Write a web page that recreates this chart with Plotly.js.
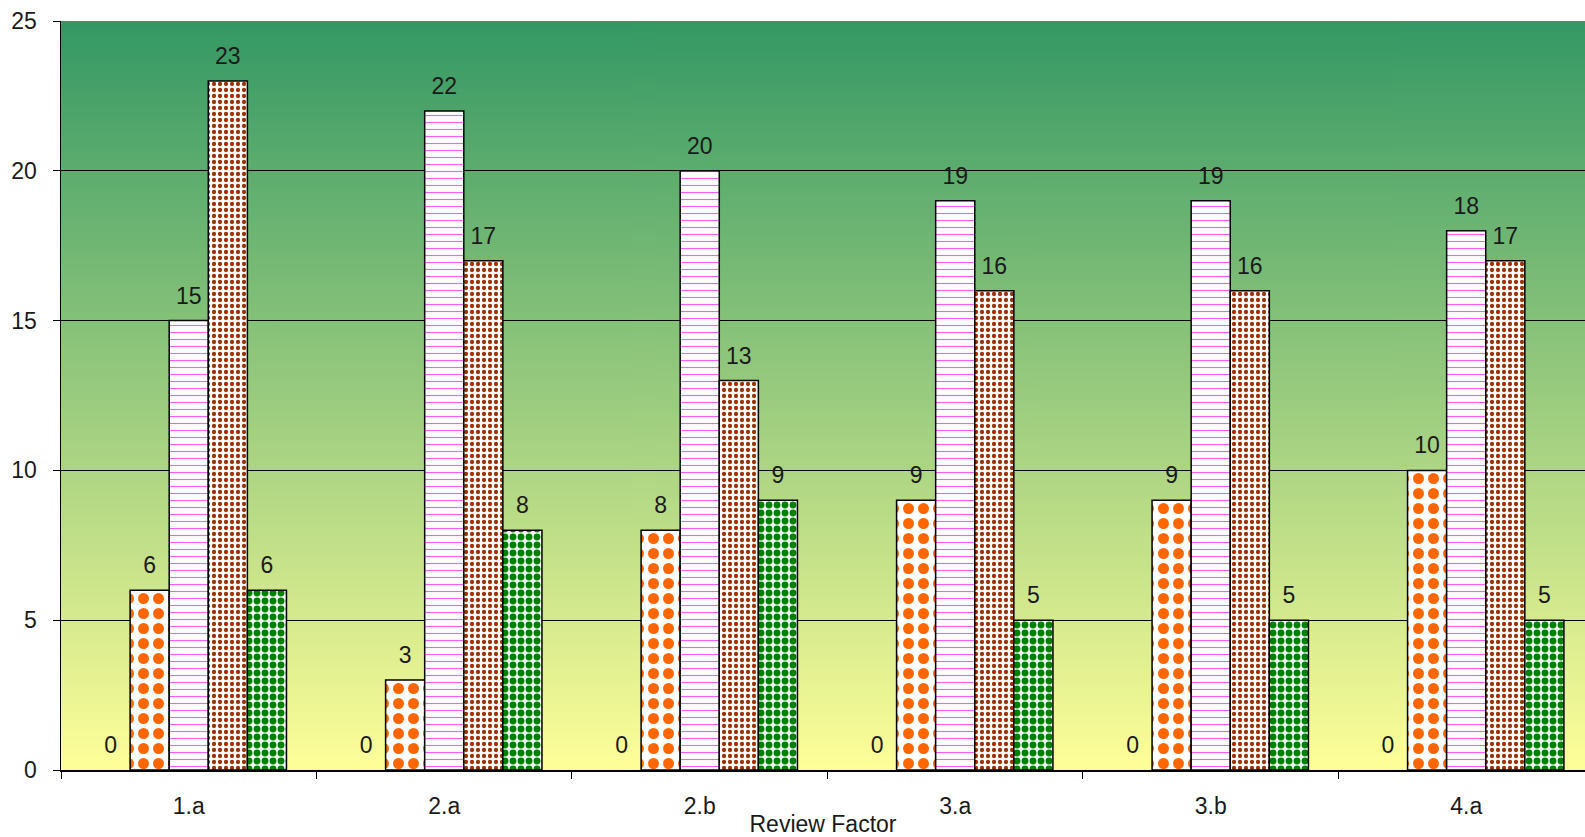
<!DOCTYPE html>
<html>
<head>
<meta charset="utf-8">
<script src="https://cdn.plot.ly/plotly-3.0.1.min.js"></script>
<style>
  html, body { margin: 0; padding: 0; background: #ffffff; }
  #chart { width: 1585px; height: 837px; }
</style>
</head>
<body>
<div id="chart"></div>
<script>
// ---- data ----
const categories = ["1.a", "2.a", "2.b", "3.a", "3.b", "4.a"];
const seriesNone   = [0, 0, 0, 0, 0, 0];
const seriesOrange = [6, 3, 8, 9, 9, 10];
const seriesPink   = [15, 22, 20, 19, 19, 18];
const seriesBrown  = [23, 17, 13, 16, 16, 17];
const seriesGreen  = [6, 8, 9, 5, 5, 5];
const yTicks = [0, 5, 10, 15, 20, 25];
const xTitle = "Review Factor";

// ---- gradient background image (top green -> bottom yellow) ----
function gradientURL() {
  const c = document.createElement("canvas");
  c.width = 4; c.height = 512;
  const g = c.getContext("2d");
  const lg = g.createLinearGradient(0, 0, 0, 512);
  lg.addColorStop(0, "#349864");
  lg.addColorStop(1, "#FFFF99");
  g.fillStyle = lg;
  g.fillRect(0, 0, 4, 512);
  return c.toDataURL("image/png");
}

const FONT = "Liberation Sans, Arial, sans-serif";
const FS = 23;
const TXT = "#1a1a1a";

function barTrace(name, values, pattern, lineW) {
  return {
    type: "bar",
    name: name,
    x: categories,
    y: values,
    text: values.map(String),
    textposition: "outside",
    constraintext: "none",
    cliponaxis: false,
    textfont: { family: FONT, size: FS, color: TXT },
    marker: {
      color: "#ffffff",
      line: { color: "#000000", width: lineW },
      pattern: pattern
    },
    hoverinfo: "x+y"
  };
}

const traces = [
  barTrace("none", seriesNone, { shape: "" }, 0),
  barTrace("orange", seriesOrange, { shape: ".", fgcolor: "#FF6600", bgcolor: "#ffffff", fgopacity: 1, size: 15, solidity: 0.42, fillmode: "overlay" }, 1.5),
  barTrace("pink", seriesPink, { shape: "-", fgcolor: "#FF00FF", bgcolor: "#ffffff", fgopacity: 0.65, size: 7, solidity: 0.16, fillmode: "overlay" }, 1.5),
  barTrace("brown", seriesBrown, { shape: ".", fgcolor: "#993300", bgcolor: "#ffffff", fgopacity: 1, size: 6, solidity: 0.4, fillmode: "overlay" }, 1.5),
  barTrace("green", seriesGreen, { shape: ".", fgcolor: "#008000", bgcolor: "#ffffff", fgopacity: 1, size: 8, solidity: 0.58, fillmode: "overlay" }, 1.5)
];

const layout = {
  width: 1585,
  height: 837,
  margin: { l: 61, r: 0, t: 21, b: 67, pad: 0 },
  paper_bgcolor: "#ffffff",
  plot_bgcolor: "rgba(0,0,0,0)",
  showlegend: false,
  barmode: "group",
  bargap: 0.235,
  bargroupgap: 0,
  font: { family: FONT, size: FS, color: TXT },
  images: [{
    source: gradientURL(),
    xref: "paper", yref: "paper",
    x: 0, y: 1, sizex: 1, sizey: 1,
    xanchor: "left", yanchor: "top",
    sizing: "stretch",
    layer: "below"
  }],
  xaxis: {
    type: "category",
    range: [-0.5, 5.465],
    showline: true,
    linecolor: "#000000",
    linewidth: 1.5,
    ticks: "outside",
    tickson: "boundaries",
    ticklen: 7,
    tickcolor: "#000000",
    tickwidth: 1,
    ticklabelstandoff: 15,
    showgrid: false,
    zeroline: false,
    tickfont: { family: FONT, size: FS, color: TXT },
    title: { text: xTitle, font: { family: FONT, size: FS, color: TXT }, standoff: 0 },
    automargin: false
  },
  yaxis: {
    range: [0, 25],
    tickvals: yTicks,
    ticktext: yTicks.map(String),
    showline: true,
    linecolor: "#000000",
    linewidth: 1.5,
    ticks: "outside",
    ticklen: 7,
    tickcolor: "#000000",
    tickwidth: 1,
    ticklabelstandoff: 11,
    showgrid: true,
    gridcolor: "#000000",
    gridwidth: 1,
    zeroline: false,
    tickfont: { family: FONT, size: FS, color: TXT },
    automargin: false
  }
};

Plotly.newPlot("chart", traces, layout, { displayModeBar: false, staticPlot: true }).then(function () {
  // lift the value labels a little further above the bars, as in the reference
  document.querySelectorAll("#chart text.bartext").forEach(function (t) {
    const tr = t.getAttribute("transform") || "";
    t.setAttribute("transform", "translate(0,-9) " + tr);
  });
});
</script>
</body>
</html>
